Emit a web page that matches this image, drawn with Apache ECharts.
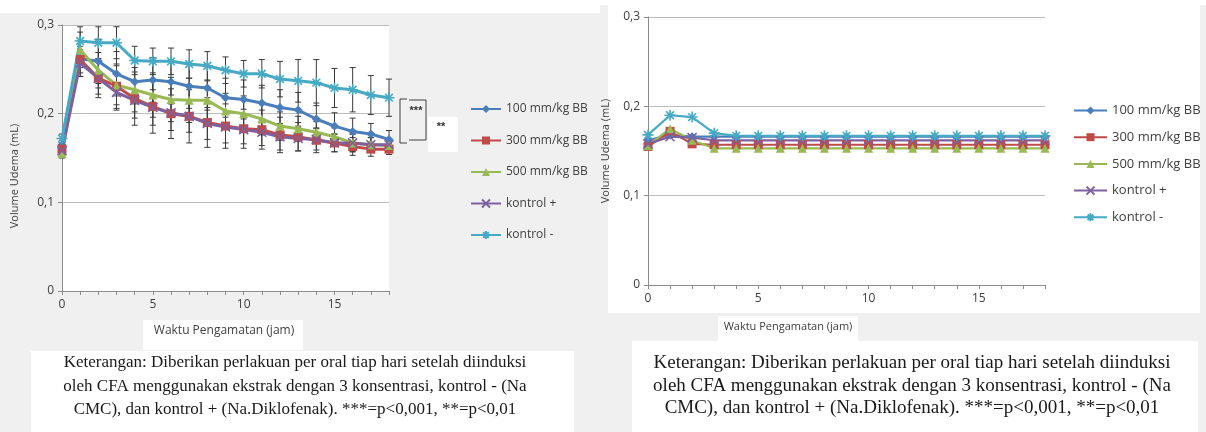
<!DOCTYPE html>
<html>
<head>
<meta charset="utf-8">
<script src="https://cdn.jsdelivr.net/npm/echarts@6/dist/echarts.min.js"></script>
<style>
  html, body { margin: 0; padding: 0; background: #f0f0f0; }
  #chart { width: 1206px; height: 432px; }
</style>
</head>
<body>
<div id="chart"></div>
<script>
// waktu pengamatan (jam)
var jam = [0, 1, 2, 3, 4, 5, 6, 7, 8, 9, 10, 11, 12, 13, 14, 15, 16, 17, 18];

// grafik kiri (dengan error bar)
var kiri100 = [0.165, 0.262, 0.259, 0.245, 0.236, 0.238, 0.236, 0.231, 0.229, 0.218, 0.216, 0.212, 0.207, 0.204, 0.194, 0.186, 0.180, 0.177, 0.171];
var kiri300 = [0.160, 0.261, 0.240, 0.231, 0.217, 0.208, 0.200, 0.197, 0.190, 0.186, 0.183, 0.182, 0.176, 0.174, 0.170, 0.167, 0.163, 0.160, 0.160];
var kiri500 = [0.155, 0.272, 0.249, 0.232, 0.227, 0.221, 0.216, 0.215, 0.215, 0.203, 0.200, 0.194, 0.186, 0.183, 0.179, 0.174, 0.167, 0.165, 0.164];
var kiriKp  = [0.158, 0.257, 0.240, 0.224, 0.215, 0.207, 0.201, 0.197, 0.189, 0.185, 0.182, 0.179, 0.174, 0.172, 0.171, 0.167, 0.167, 0.165, 0.165];
var kiriKm  = [0.172, 0.282, 0.280, 0.280, 0.260, 0.259, 0.259, 0.256, 0.254, 0.249, 0.245, 0.245, 0.239, 0.237, 0.235, 0.229, 0.227, 0.221, 0.218];

var err100 = [0.005, 0.020, 0.025, 0.025, 0.025, 0.025, 0.025, 0.025, 0.025, 0.022, 0.022, 0.020, 0.020, 0.020, 0.018, 0.015, 0.015, 0.012, 0.010];
var err300 = [0.005, 0.015, 0.022, 0.025, 0.030, 0.030, 0.028, 0.030, 0.028, 0.025, 0.022, 0.022, 0.020, 0.016, 0.014, 0.010, 0.010, 0.008, 0.006];
var err500 = [0.005, 0.020, 0.020, 0.022, 0.025, 0.025, 0.025, 0.025, 0.022, 0.020, 0.020, 0.018, 0.016, 0.014, 0.012, 0.010, 0.010, 0.008, 0.006];
var errKp  = [0.004, 0.015, 0.018, 0.020, 0.020, 0.020, 0.020, 0.018, 0.018, 0.018, 0.016, 0.015, 0.015, 0.014, 0.012, 0.010, 0.010, 0.008, 0.006];
var errKm  = [0.005, 0.016, 0.018, 0.018, 0.016, 0.015, 0.015, 0.016, 0.016, 0.015, 0.015, 0.016, 0.020, 0.024, 0.026, 0.022, 0.025, 0.022, 0.021];

// grafik kanan
var kanan100 = [0.162, 0.168, 0.166, 0.166, 0.166, 0.166, 0.166, 0.166, 0.166, 0.166, 0.166, 0.166, 0.166, 0.166, 0.166, 0.166, 0.166, 0.166, 0.166];
var kanan300 = [0.155, 0.172, 0.158, 0.157, 0.157, 0.157, 0.157, 0.157, 0.157, 0.157, 0.157, 0.157, 0.157, 0.157, 0.157, 0.157, 0.157, 0.157, 0.157];
var kanan500 = [0.156, 0.175, 0.162, 0.153, 0.153, 0.153, 0.153, 0.153, 0.153, 0.153, 0.153, 0.153, 0.153, 0.153, 0.153, 0.153, 0.153, 0.153, 0.153];
var kananKp  = [0.158, 0.166, 0.165, 0.162, 0.162, 0.162, 0.162, 0.162, 0.162, 0.162, 0.162, 0.162, 0.162, 0.162, 0.162, 0.162, 0.162, 0.162, 0.162];
var kananKm  = [0.168, 0.190, 0.188, 0.170, 0.167, 0.167, 0.167, 0.167, 0.167, 0.167, 0.167, 0.167, 0.167, 0.167, 0.167, 0.167, 0.167, 0.167, 0.167];

var names = ['100 mm/kg BB', '300 mm/kg BB', '500 mm/kg BB', 'kontrol +', 'kontrol -'];
var warna = ['#4a7ebb', '#be4b48', '#98b954', '#7d60a0', '#46aac5'];
var simbol = [
  'diamond',
  'rect',
  'triangle',
  'path://M0,0L10,10M10,0L0,10',
  'path://M5,0L5,10M0,5L10,5M1.5,1.5L8.5,8.5M8.5,1.5L1.5,8.5'
];
var caption = [
  'Keterangan: Diberikan perlakuan per oral tiap hari setelah diinduksi',
  'oleh CFA menggunakan ekstrak dengan 3 konsentrasi, kontrol - (Na',
  'CMC), dan kontrol + (Na.Diklofenak). ***=p<0,001, **=p<0,01'
];

var kiri = [kiri100, kiri300, kiri500, kiriKp, kiriKm];
var kanan = [kanan100, kanan300, kanan500, kananKp, kananKm];
var errs = [err100, err300, err500, errKp, errKm];

function pasang(ys) {
  return jam.map(function (x, i) { return [x, ys[i]]; });
}

var fontSans = '"Open Sans", "Noto Sans", sans-serif';
var labelFmt = function (v) { return v === 0 ? '0' : v.toFixed(1).replace('.', ','); };

function xAxis(idx) {
  return {
    gridIndex: idx, type: 'value', min: 0, max: 18, interval: 1,
    axisLine: { lineStyle: { color: '#8c8c8c' } },
    axisTick: { show: true, length: 4, lineStyle: { color: '#8c8c8c' } },
    axisLabel: {
      color: '#404040', fontFamily: fontSans, fontSize: 12, margin: 8,
      formatter: function (v) { return v % 5 === 0 ? String(v) : ''; }
    },
    splitLine: { show: false }
  };
}
function yAxis(idx, nama, gap) {
  return {
    gridIndex: idx, type: 'value', min: 0, max: 0.3, interval: 0.1,
    name: nama, nameLocation: 'middle', nameGap: gap,
    nameTextStyle: { color: '#404040', fontFamily: fontSans, fontSize: 11 },
    axisLine: { show: true, lineStyle: { color: '#8c8c8c' } },
    axisTick: { show: true, length: 4, lineStyle: { color: '#8c8c8c' } },
    axisLabel: { color: '#404040', fontFamily: fontSans, fontSize: 12, formatter: labelFmt },
    splitLine: { lineStyle: { color: '#bdbdbd', width: 1 } }
  };
}

var series = [];
// error bar (kiri)
names.forEach(function (n, k) {
  series.push({
    type: 'custom', xAxisIndex: 0, yAxisIndex: 0, silent: true, z: 1,
    data: jam.map(function (x, i) { return [x, kiri[k][i] - errs[k][i], kiri[k][i] + errs[k][i]]; }),
    renderItem: function (params, api) {
      var lo = api.coord([api.value(0), api.value(1)]);
      var hi = api.coord([api.value(0), api.value(2)]);
      var w = 3;
      var st = { stroke: '#3a3a3a', lineWidth: 1 };
      return {
        type: 'group',
        children: [
          { type: 'line', shape: { x1: lo[0], y1: lo[1], x2: hi[0], y2: hi[1] }, style: st },
          { type: 'line', shape: { x1: lo[0] - w, y1: lo[1], x2: lo[0] + w, y2: lo[1] }, style: st },
          { type: 'line', shape: { x1: hi[0] - w, y1: hi[1], x2: hi[0] + w, y2: hi[1] }, style: st }
        ]
      };
    }
  });
});
names.forEach(function (n, k) {
  var isPath = k >= 3;
  series.push({
    name: n, type: 'line', xAxisIndex: 0, yAxisIndex: 0, z: 3,
    data: pasang(kiri[k]),
    symbol: simbol[k], symbolSize: k === 4 ? 11 : 9, showSymbol: true,
    lineStyle: { color: warna[k], width: 3 },
    itemStyle: { color: warna[k], borderColor: warna[k], borderWidth: isPath ? 1.6 : 0 }
  });
});
names.forEach(function (n, k) {
  var isPath = k >= 3;
  series.push({
    name: n, type: 'line', xAxisIndex: 1, yAxisIndex: 1, z: 3,
    data: pasang(kanan[k]),
    symbol: simbol[k], symbolSize: k === 4 ? 11 : 9, showSymbol: true,
    lineStyle: { color: warna[k], width: 2.2 },
    itemStyle: { color: warna[k], borderColor: warna[k], borderWidth: isPath ? 1.6 : 0 }
  });
});

var teksCaption = caption.join('\n');
var judulX = { text: 'Waktu Pengamatan (jam)', fill: '#404040', font: '12px "Open Sans", sans-serif', align: 'center', verticalAlign: 'middle' };
var garis = { stroke: '#404040', lineWidth: 1 };

var chart = echarts.init(document.getElementById('chart'));
chart.setOption({
  backgroundColor: '#f0f0f0',
  animation: false,
  grid: [
    { left: 62, top: 25, width: 327, height: 266, show: true, backgroundColor: '#ffffff', borderWidth: 0 },
    { left: 648, top: 17, width: 397, height: 268, show: true, backgroundColor: '#ffffff', borderWidth: 0 }
  ],
  xAxis: [xAxis(0), xAxis(1)],
  yAxis: [yAxis(0, '', 40), yAxis(1, 'Volume Udema (mL)', 37)],
  legend: [
    {
      data: names, orient: 'vertical', left: 465, top: 98, itemWidth: 30, itemHeight: 10, itemGap: 19.5,
      textStyle: { color: '#404040', fontFamily: fontSans, fontSize: 12 }
    },
    {
      data: names, orient: 'vertical', left: 1068, top: 99, itemWidth: 33, itemHeight: 10, itemGap: 13.7,
      textStyle: { color: '#404040', fontFamily: fontSans, fontSize: 13 }
    }
  ],
  graphic: [
    // latar putih
    { type: 'rect', z: -10, shape: { x: 0, y: 0, width: 600, height: 13 }, style: { fill: '#ffffff' } },
    { type: 'rect', z: -10, shape: { x: 600, y: 0, width: 606, height: 5 }, style: { fill: '#ffffff' } },
    { type: 'rect', z: -10, shape: { x: 608, y: 5, width: 592, height: 308 }, style: { fill: '#ffffff' } },
    // judul sumbu y kiri
    { type: 'text', x: 15, y: 176, rotation: Math.PI / 2,
      style: { text: 'Volume Udema (mL)', fill: '#404040', font: '11px "Open Sans", sans-serif', align: 'center', verticalAlign: 'middle' } },
    // judul sumbu x
    { type: 'rect', z: -5, shape: { x: 143, y: 320, width: 160, height: 30 }, style: { fill: '#ffffff' } },
    { type: 'text', x: 224, y: 331, style: judulX },
    { type: 'rect', z: -5, shape: { x: 718, y: 316, width: 140, height: 30 }, style: { fill: '#ffffff' } },
    { type: 'text', x: 788, y: 327, style: Object.assign({}, judulX, { font: '11px "Open Sans", sans-serif' }) },
    // keterangan
    { type: 'rect', z: -5, shape: { x: 31, y: 351, width: 543, height: 81 }, style: { fill: '#ffffff' } },
    { type: 'text', x: 295, y: 351,
      style: { text: teksCaption, fill: '#1a1a1a', font: '17px "Liberation Serif", serif', align: 'center', verticalAlign: 'top', lineHeight: 23.5 } },
    { type: 'rect', z: -5, shape: { x: 632, y: 341, width: 566, height: 91 }, style: { fill: '#ffffff' } },
    { type: 'text', x: 912, y: 352,
      style: { text: teksCaption, fill: '#1a1a1a', font: '19px "Liberation Serif", serif', align: 'center', verticalAlign: 'top', lineHeight: 22.5 } },
    // tanda signifikansi
    { type: 'polyline', shape: { points: [[407, 99], [400, 99], [400, 143], [407, 143]] }, style: garis },
    { type: 'polyline', shape: { points: [[409, 100], [426, 100], [426, 140], [409, 140]] }, style: garis },
    { type: 'text', x: 416, y: 111, style: { text: '***', fill: '#333', font: 'bold 11px sans-serif', align: 'center', verticalAlign: 'middle' } },
    { type: 'rect', shape: { x: 428, y: 117, width: 30, height: 35 }, style: { fill: '#ffffff' } },
    { type: 'text', x: 441, y: 127, style: { text: '**', fill: '#333', font: 'bold 11px sans-serif', align: 'center', verticalAlign: 'middle' } }
  ],
  series: series
});
</script>
</body>
</html>
